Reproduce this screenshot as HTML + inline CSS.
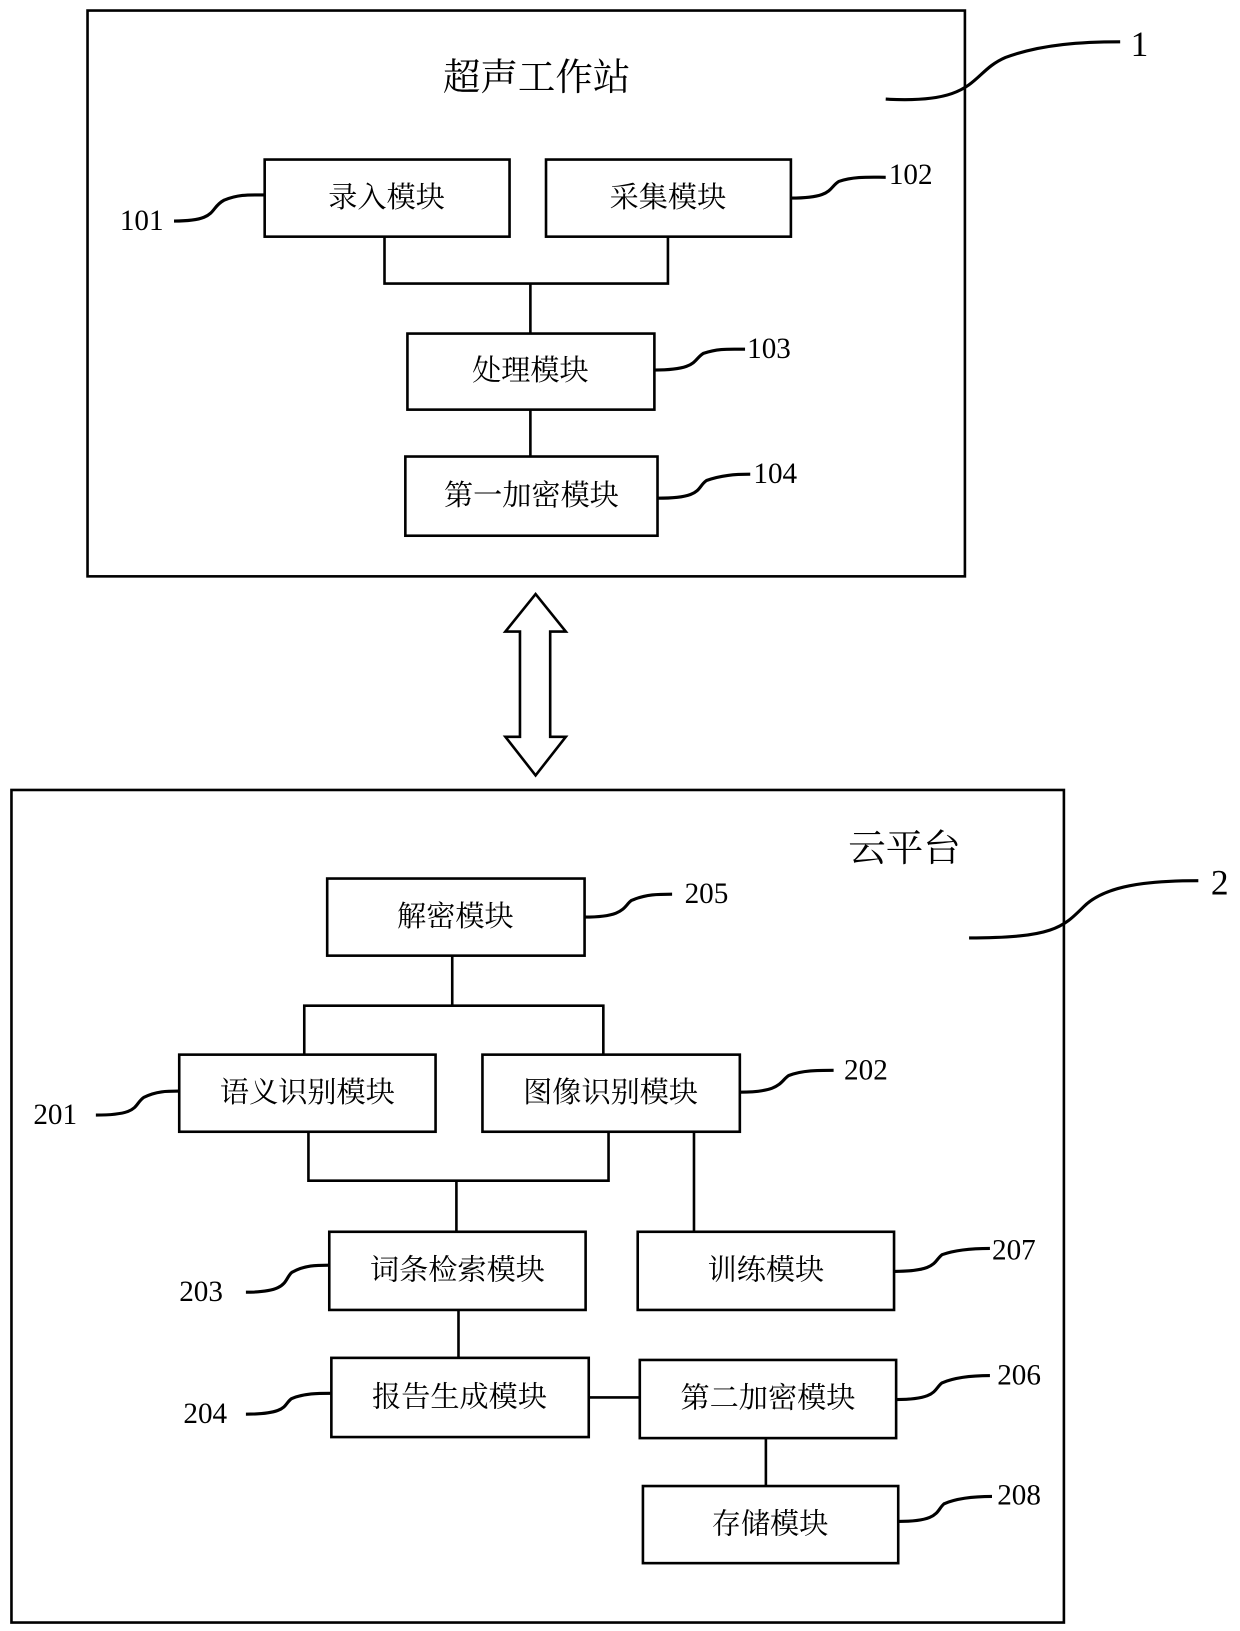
<!DOCTYPE html>
<html><head><meta charset="utf-8"><style>
html,body{margin:0;padding:0;background:#fff;}
svg{display:block}
.cn{font-family:"Liberation Serif","Noto Serif CJK SC",serif;font-size:28px;fill:#000;text-anchor:middle;dominant-baseline:central}
.t{font-size:36px}
.n{font-family:"Liberation Serif",serif;font-size:28px;fill:#000;dominant-baseline:central}
</style></head><body>
<svg width="1240" height="1631" viewBox="0 0 1190 1565" xmlns="http://www.w3.org/2000/svg">
<g fill="none" stroke="#000" stroke-width="2.5">
<rect x="84" y="10" width="842" height="543"/>
<rect x="254" y="153" width="235" height="74"/>
<rect x="524" y="153" width="235" height="74"/>
<rect x="391" y="320" width="237" height="73"/>
<rect x="389" y="438" width="242" height="76"/>
<polyline points="369,227 369,272 641,272 641,227"/>
<line x1="509" y1="272" x2="509" y2="320"/>
<line x1="509" y1="393" x2="509" y2="438"/>
<path d="M499,606 L485,606 L514,570 L543,606 L528,606 L528,707 L543,707 L514,744 L485,707 L499,707 Z"/>
<rect x="11" y="758" width="1010" height="799"/>
<rect x="314" y="843" width="247" height="74"/>
<polyline points="434,917 434,965"/>
<polyline points="292,1012 292,965 579,965 579,1012"/>
<rect x="172" y="1012" width="246" height="74"/>
<rect x="463" y="1012" width="247" height="74"/>
<polyline points="296,1086 296,1133 584,1133 584,1086"/>
<line x1="438" y1="1133" x2="438" y2="1182"/>
<line x1="666" y1="1086" x2="666" y2="1182"/>
<rect x="316" y="1182" width="246" height="75"/>
<rect x="612" y="1182" width="246" height="75"/>
<line x1="440" y1="1257" x2="440" y2="1303"/>
<rect x="318" y="1303" width="247" height="76"/>
<rect x="614" y="1305" width="246" height="75"/>
<line x1="565" y1="1341" x2="614" y2="1341"/>
<line x1="735" y1="1380" x2="735" y2="1426"/>
<rect x="617" y="1426" width="245" height="74"/>
<g stroke-width="3">
<path d="M850,95 C940,100 930,70 965,55 C1000,42 1040,40 1075,40"/>
<path d="M167,212 C210,212 200,200 215,192 C230,186 240,187 254,187"/>
<path d="M759,190 C800,190 795,180 805,174 C820,169 835,170 850,170"/>
<path d="M628,355 C670,355 665,345 675,339 C690,334 700,335 715,335"/>
<path d="M631,478 C675,478 668,468 678,461 C692,456 705,455 720,455"/>
<path d="M930,900 C1010,900 1020,890 1040,870 C1060,850 1100,845 1150,845"/>
<path d="M561,880 C600,880 598,870 606,864 C620,858 632,858 645,858"/>
<path d="M92,1070 C135,1070 128,1060 138,1053 C150,1047 160,1047 172,1047"/>
<path d="M710,1048 C750,1048 748,1038 757,1032 C770,1027 785,1027 800,1027"/>
<path d="M236,1240 C278,1240 272,1228 280,1221 C292,1214 304,1214 316,1214"/>
<path d="M858,1220 C900,1220 896,1210 904,1204 C918,1199 935,1198 950,1198"/>
<path d="M236,1357 C278,1357 272,1347 280,1342 C292,1337 305,1337 318,1337"/>
<path d="M860,1343 C900,1343 896,1333 904,1327 C918,1321 935,1320 950,1320"/>
<path d="M862,1460 C902,1460 898,1450 906,1443 C920,1437 937,1436 952,1436"/>
</g>
</g>
<text class="cn t" x="515" y="75">超声工作站</text>
<text class="cn" x="371" y="190">录入模块</text>
<text class="cn" x="641" y="190">采集模块</text>
<text class="cn" x="509" y="356">处理模块</text>
<text class="cn" x="510" y="476">第一加密模块</text>
<text class="cn t" x="868" y="815">云平台</text>
<text class="cn" x="437" y="880">解密模块</text>
<text class="cn" x="295" y="1049">语义识别模块</text>
<text class="cn" x="586" y="1049">图像识别模块</text>
<text class="cn" x="439" y="1219">词条检索模块</text>
<text class="cn" x="735" y="1219">训练模块</text>
<text class="cn" x="441" y="1341">报告生成模块</text>
<text class="cn" x="737" y="1342">第二加密模块</text>
<text class="cn" x="739" y="1463">存储模块</text>
<text class="n" x="1085" y="42" style="font-size:34px">1</text>
<text class="n" x="1162" y="847" style="font-size:34px">2</text>
<text class="n" x="115" y="212">101</text>
<text class="n" x="853" y="168">102</text>
<text class="n" x="717" y="335">103</text>
<text class="n" x="723" y="455">104</text>
<text class="n" x="657" y="858">205</text>
<text class="n" x="32" y="1070">201</text>
<text class="n" x="810" y="1027">202</text>
<text class="n" x="172" y="1240">203</text>
<text class="n" x="952" y="1200">207</text>
<text class="n" x="176" y="1357">204</text>
<text class="n" x="957" y="1320">206</text>
<text class="n" x="957" y="1435">208</text>
</svg>
</body></html>
